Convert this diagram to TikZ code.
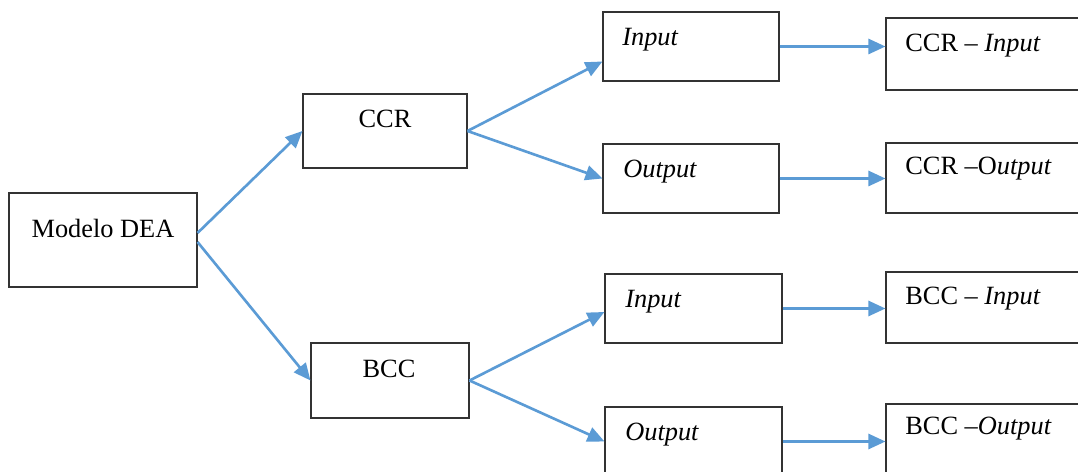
\documentclass[tikz,border=0pt]{standalone}
\usepackage{fontspec}
\setmainfont{Liberation Serif}
\usetikzlibrary{arrows.meta}
\definecolor{setaazul}{RGB}{91,155,213}

\tikzset{
	caixa/.style args={#1:#2}{
		draw=black!80, line width=0.6pt, inner sep=0pt,
		minimum width=#1*0.02cm, minimum height=#2*0.02cm
	},
	rotulo/.style={inner sep=0pt, font=\fontsize{15}{18}\selectfont},
	seta/.style={draw=setaazul, line width=1.5pt, -{Triangle[length=0.34cm,width=0.3cm]}}
}

\begin{document}
\begin{tikzpicture}[x=0.02cm,y=-0.02cm]
	\useasboundingbox (0,0) rectangle (1078,472);
	\clip (0,0) rectangle (1078,472);

	%% caixas
	\node[caixa=188:94] (dea) at (103,240) {};
	\node[caixa=164:74] (ccr) at (385,131) {};
	\node[caixa=158:75] (bcc) at (390,380.5) {};
	\node[caixa=176:69] (ccrin) at (691,46.5) {};
	\node[caixa=176:69] (ccrout) at (691,178.5) {};
	\node[caixa=177:69] (bccin) at (693.5,308.5) {};
	\node[caixa=177:69] (bccout) at (693.5,441.5) {};
	\node[caixa=196:72] (rccrin) at (984,54) {};
	\node[caixa=196:70] (rccrout) at (984,178) {};
	\node[caixa=196:71] (rbccin) at (984,307.5) {};
	\node[caixa=196:70] (rbccout) at (984,439) {};

	%% textos (no alto das caixas)
	\node[rotulo,anchor=base] (tdea) at (103,238) {Modelo DEA};
	\node[rotulo,anchor=base] (tccr) at (385,128) {CCR};
	\node[rotulo,anchor=base] (tbcc) at (389,378) {BCC};
	\node[rotulo,anchor=base west] (tccrin) at (622,46) {\textit{Input}};
	\node[rotulo,anchor=base west] (tccrout) at (623,178) {\textit{Output}};
	\node[rotulo,anchor=base west] (tbccin) at (625,308) {\textit{Input}};
	\node[rotulo,anchor=base west] (tbccout) at (625,440) {\textit{Output}};
	\node[rotulo,anchor=base west] (trccrin) at (905,52) {CCR -- \textit{Input}};
	\node[rotulo,anchor=base west] (trccrout) at (905,175) {CCR --O\textit{utput}};
	\node[rotulo,anchor=base west] (trbccin) at (905,305) {BCC -- \textit{Input}};
	\node[rotulo,anchor=base west] (trbccout) at (905,435) {BCC --\textit{Output}};

	%% setas
	\draw[seta] ([yshift=0.14cm]dea.east) -- (ccr.west);
	\draw[seta] ([yshift=-0.04cm]dea.east) -- (bcc.west);
	\draw[seta] (ccr.east) -- ([yshift=-0.3cm]ccrin.west);
	\draw[seta] (ccr.east) -- (ccrout.west);
	\draw[seta] (bcc.east) -- ([yshift=-0.07cm]bccin.west);
	\draw[seta] (bcc.east) -- (bccout.west);
	\foreach \a/\b in {ccrin/rccrin,ccrout/rccrout,bccin/rbccin,bccout/rbccout}{
		\draw[seta] (\a.east) -- (\a.east -| \b.west);
	}
\end{tikzpicture}
\end{document}
